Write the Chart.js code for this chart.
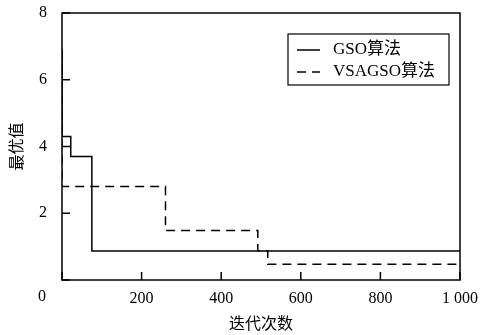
<!DOCTYPE html>
<html>
<head>
<meta charset="utf-8">
<script src="https://cdn.jsdelivr.net/npm/chart.js@4.4.1/dist/chart.umd.min.js"></script>
<style>
  html, body { margin: 0; padding: 0; background: #fff; }
  #wrap { width: 480px; height: 335px; }
</style>
</head>
<body>
<div id="wrap"><canvas id="c" width="480" height="335"></canvas></div>
<script>
// Best value found so far vs. iteration count; each pair is (iteration where the value changes, new best value)
const gsoIter = [0, 0, 22, 75, 1000];
const gsoBest = [6.9, 4.3, 3.7, 0.87, 0.87];
const vsaIter = [0, 0, 260, 492, 517, 1000];
const vsaBest = [6.9, 2.8, 1.48, 0.88, 0.47, 0.47];

const seriesNames = ['GSO算法', 'VSAGSO算法'];
const xTicks = [0, 200, 400, 600, 800, 1000];
const yTicks = [0, 2, 4, 6, 8];
const xTitle = '迭代次数';
const yTitle = '最优值';

const FONT = '"Liberation Serif", "Noto Sans CJK SC", serif';
const DASH = [9, 6];

const toPoints = (xs, ys) => xs.map((x, i) => ({ x: x, y: ys[i] }));

// Frame, inward tick marks, the shared origin label and the boxed legend
const decorations = {
  id: 'decorations',
  afterDraw(chart) {
    const ctx = chart.ctx;
    const a = chart.chartArea;
    const xs = chart.scales.x, ys = chart.scales.y;
    ctx.save();
    ctx.strokeStyle = '#000';
    ctx.lineWidth = 1.5;
    ctx.setLineDash([]);
    ctx.strokeRect(a.left, a.top, a.right - a.left, a.bottom - a.top);

    const tl = 8;
    ctx.beginPath();
    xTicks.forEach(v => {
      const px = xs.getPixelForValue(v);
      ctx.moveTo(px, a.bottom);
      ctx.lineTo(px, a.bottom - tl);
    });
    yTicks.forEach(v => {
      const py = ys.getPixelForValue(v);
      ctx.moveTo(a.left, py);
      ctx.lineTo(a.left + tl, py);
    });
    ctx.stroke();

    ctx.fillStyle = '#000';
    ctx.font = '16px ' + FONT;
    ctx.textAlign = 'center';
    ctx.textBaseline = 'middle';
    ctx.fillText('0', a.left - 20, a.bottom + 17);

    // legend box
    const bx = a.right - 172, by = a.top + 21, bw = 161, bh = 51;
    ctx.lineWidth = 1.2;
    ctx.strokeRect(bx, by, bw, bh);
    ctx.font = '17px ' + FONT;
    chart.data.datasets.forEach((ds, i) => {
      const ly = by + 16 + i * 22;
      ctx.beginPath();
      ctx.lineWidth = 1.5;
      ctx.setLineDash(ds.borderDash || []);
      ctx.moveTo(bx + 9, ly);
      ctx.lineTo(bx + 32, ly);
      ctx.stroke();
      ctx.setLineDash([]);
      ctx.textAlign = 'left';
      ctx.fillText(ds.label, bx + 45, ly);
    });
    ctx.restore();
  }
};

new Chart(document.getElementById('c'), {
  type: 'line',
  data: {
    datasets: [
      {
        label: seriesNames[0],
        data: toPoints(gsoIter, gsoBest),
        borderColor: '#000',
        borderWidth: 1.5,
        stepped: 'before',
        pointRadius: 0,
        fill: false
      },
      {
        label: seriesNames[1],
        data: toPoints(vsaIter, vsaBest),
        borderColor: '#000',
        borderWidth: 1.5,
        borderDash: DASH,
        stepped: 'before',
        pointRadius: 0,
        fill: false
      }
    ]
  },
  options: {
    responsive: false,
    animation: false,
    devicePixelRatio: 1,
    layout: { padding: { top: 13, right: 20, left: 0, bottom: 0 } },
    plugins: {
      legend: { display: false },
      tooltip: { enabled: false }
    },
    scales: {
      x: {
        type: 'linear',
        min: 0,
        max: 1000,
        afterBuildTicks(scale) { scale.ticks = xTicks.map(v => ({ value: v })); },
        afterFit(scale) {
          scale.height = 55;
          scale.paddingLeft = 0;
          scale.paddingRight = 0;
        },
        grid: { display: false, drawTicks: false },
        border: { display: false },
        ticks: {
          padding: 9,
          color: '#000',
          font: { family: FONT, size: 16 },
          maxRotation: 0,
          callback: v => v === 0 ? '' : (v >= 1000 ? '1 000' : String(v))
        },
        title: {
          display: true,
          text: xTitle,
          color: '#000',
          font: { family: FONT, size: 16 },
          padding: { top: 0, bottom: 1 }
        }
      },
      y: {
        min: 0,
        max: 8,
        afterBuildTicks(scale) { scale.ticks = yTicks.map(v => ({ value: v })); },
        afterFit(scale) {
          scale.width = 62;
          scale.paddingTop = 0;
          scale.paddingBottom = 0;
        },
        grid: { display: false, drawTicks: false },
        border: { display: false },
        ticks: {
          padding: 15,
          color: '#000',
          font: { family: FONT, size: 16 },
          callback: v => v === 0 ? '' : String(v)
        },
        title: {
          display: true,
          text: yTitle,
          color: '#000',
          font: { family: FONT, size: 16 },
          padding: { top: 8, bottom: 0 }
        }
      }
    }
  },
  plugins: [decorations]
});
</script>
</body>
</html>
